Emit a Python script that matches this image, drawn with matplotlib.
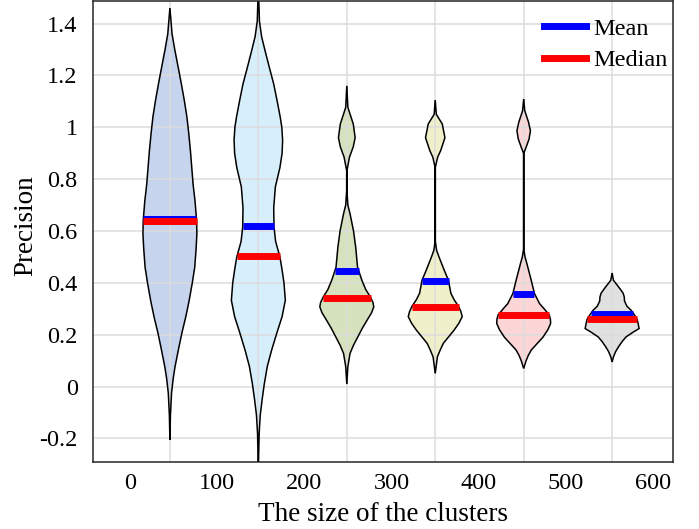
import numpy as np
import matplotlib
matplotlib.use('Agg')
import matplotlib.pyplot as plt
from matplotlib.patches import PathPatch
from matplotlib.lines import Line2D

plt.rcParams['font.family'] = ['Liberation Serif', 'DejaVu Serif']

# violin outlines: precision levels and relative half-widths
levels_1 = [-0.205, -0.11, -0.025, 0.03, 0.077, 0.14, 0.205, 0.27, 0.33, 0.40, 0.46, 0.53, 0.59, 0.64, 0.717, 0.78, 0.845, 0.91, 0.975, 1.04, 1.10, 1.17, 1.23, 1.30, 1.36, 1.46]
widths_1 = [0, 0.02, 0.06, 0.12, 0.19, 0.31, 0.44, 0.59, 0.71, 0.83, 0.92, 0.97, 1.0, 0.99, 0.93, 0.86, 0.81, 0.76, 0.70, 0.63, 0.54, 0.42, 0.31, 0.18, 0.08, 0]

levels_2 = [-0.32, -0.18, -0.11, -0.05, 0.01, 0.077, 0.14, 0.205, 0.27, 0.333, 0.40, 0.45, 0.50, 0.56, 0.615, 0.69, 0.77, 0.845, 0.90, 0.95, 1.00, 1.04, 1.10, 1.167, 1.23, 1.295, 1.35, 1.41, 1.55]
widths_2 = [0, 0.03, 0.07, 0.14, 0.22, 0.33, 0.49, 0.68, 0.88, 1.0, 0.95, 0.88, 0.80, 0.64, 0.58, 0.57, 0.63, 0.80, 0.88, 0.90, 0.87, 0.81, 0.70, 0.57, 0.41, 0.25, 0.12, 0.04, 0]

levels_3 = [0.01, 0.077, 0.128, 0.16, 0.192, 0.226, 0.256, 0.285, 0.308, 0.325, 0.346, 0.375, 0.41, 0.46, 0.538, 0.60, 0.667, 0.70, 0.756, 0.833, 0.885, 0.925, 0.96, 1.013, 1.077, 1.16]
widths_3 = [0, 0.04, 0.12, 0.25, 0.41, 0.58, 0.75, 0.92, 1.0, 0.97, 0.87, 0.70, 0.56, 0.40, 0.33, 0.25, 0.12, 0.04, 0.005, 0.005, 0.10, 0.24, 0.31, 0.24, 0.04, 0]

levels_4 = [0.051, 0.115, 0.14, 0.167, 0.19, 0.218, 0.245, 0.27, 0.29, 0.31, 0.335, 0.36, 0.41, 0.45, 0.50, 0.526, 0.56, 0.70, 0.846, 0.885, 0.91, 0.96, 1.013, 1.05, 1.105]
widths_4 = [0, 0.08, 0.18, 0.30, 0.48, 0.70, 0.88, 1.0, 0.95, 0.86, 0.70, 0.58, 0.49, 0.33, 0.14, 0.05, 0.005, 0.005, 0.005, 0.09, 0.2, 0.36, 0.26, 0.04, 0]

levels_5 = [0.07, 0.10, 0.12, 0.141, 0.165, 0.19, 0.22, 0.244, 0.26, 0.276, 0.30, 0.32, 0.359, 0.41, 0.474, 0.50, 0.53, 0.70, 0.90, 0.923, 0.955, 0.987, 1.02, 1.064, 1.109]
widths_5 = [0, 0.09, 0.17, 0.28, 0.49, 0.71, 0.90, 1.0, 0.99, 0.95, 0.76, 0.59, 0.40, 0.28, 0.12, 0.05, 0.005, 0.005, 0.005, 0.09, 0.2, 0.25, 0.18, 0.04, 0]

levels_6 = [0.095, 0.115, 0.135, 0.154, 0.175, 0.192, 0.21, 0.224, 0.24, 0.259, 0.276, 0.295, 0.31, 0.33, 0.346, 0.36, 0.372, 0.39, 0.41, 0.438]
widths_6 = [0, 0.05, 0.13, 0.24, 0.38, 0.52, 0.78, 1.0, 0.97, 0.93, 0.83, 0.70, 0.55, 0.46, 0.45, 0.41, 0.33, 0.2, 0.05, 0]

means = [0.648, 0.619, 0.446, 0.408, 0.359, 0.282]
medians = [0.640, 0.503, 0.342, 0.306, 0.276, 0.259]

tick_labels = ['0', '100', '200', '300', '400', '500', '600']
colors = ['#C6D4EE', '#D6EFFB', '#D6E2BD', '#EFEFC9', '#FCD6D6', '#E0E0E0']

levels = [levels_1, levels_2, levels_3, levels_4, levels_5, levels_6]
dens = [widths_1, widths_2, widths_3, widths_4, widths_5, widths_6]
positions = np.arange(1, 7)
vwidth = 0.61

stats = []
for lv, dv, mu, md in zip(levels, dens, means, medians):
    stats.append({'coords': np.array(lv), 'vals': np.array(dv),
                  'mean': mu, 'median': md, 'min': lv[0], 'max': lv[-1]})

fig = plt.figure(figsize=(6.99, 5.29), dpi=100)
ax = fig.add_axes([0.133, 0.127, 0.830, 0.871])

ax.vlines(positions, [s['min'] for s in stats], [s['max'] for s in stats],
          color='black', lw=1.4, zorder=1)

parts = ax.violin(stats, positions=positions, widths=vwidth,
                  showmeans=False, showmedians=False, showextrema=False)
for body, c in zip(parts['bodies'], colors):
    body.set_facecolor(c)
    body.set_edgecolor('none')
    body.set_alpha(1)
    body.set_zorder(2)
    for p in body.get_paths():
        ax.add_patch(PathPatch(p, fill=False, ec='black', lw=1.1, zorder=3))

for pos, lv, dv, mu, md in zip(positions, levels, dens, means, medians):
    scale = 0.5 * vwidth / max(dv)
    hm = np.interp(mu, lv, dv) * scale
    hd = np.interp(md, lv, dv) * scale
    ax.plot([pos - hm, pos + hm], [mu, mu], color='blue', lw=5, solid_capstyle='butt', zorder=4)
    ax.plot([pos - hd, pos + hd], [md, md], color='red', lw=5, solid_capstyle='butt', zorder=5)

ax.set_xlim(0.13, 6.69)
ax.set_ylim(-0.29, 1.487)

ax.set_xticks(positions)
ax.set_xticklabels([''] * 6)
ax.set_xticks(np.linspace(0.55, 6.46, 7), minor=True)
ax.set_xticklabels(tick_labels, minor=True)
ax.tick_params(axis='x', which='both', length=0, labelsize=17.5, pad=8)

yt = [-0.2, 0, 0.2, 0.4, 0.6, 0.8, 1.0, 1.2, 1.4]
ax.set_yticks(yt)
ax.set_yticklabels(['%g' % v for v in yt])
ax.tick_params(axis='y', length=0, labelsize=17.5, pad=11)

ax.set_axisbelow(False)
ax.grid(True, which='major', color='#DCDCDC', lw=1.1)
for s in ax.spines.values():
    s.set_color('#262626')
    s.set_linewidth(1.1)
    s.set_zorder(6)

ax.set_xlabel('The size of the clusters', fontsize=19.5, labelpad=6)
ax.set_ylabel('Precision', fontsize=19.5)
ax.yaxis.set_label_coords(-0.095, 0.512)

handles = [Line2D([], [], color='blue', lw=5), Line2D([], [], color='red', lw=5)]
leg = ax.legend(handles, ['Mean', 'Median'], loc='upper right', frameon=False,
                fontsize=17.5, handlelength=1.75, handletextpad=0.3,
                labelspacing=0.4, borderaxespad=0.0, bbox_to_anchor=(1.008, 0.985))
leg.set_zorder(7)

fig.savefig('out.png', dpi=100)
